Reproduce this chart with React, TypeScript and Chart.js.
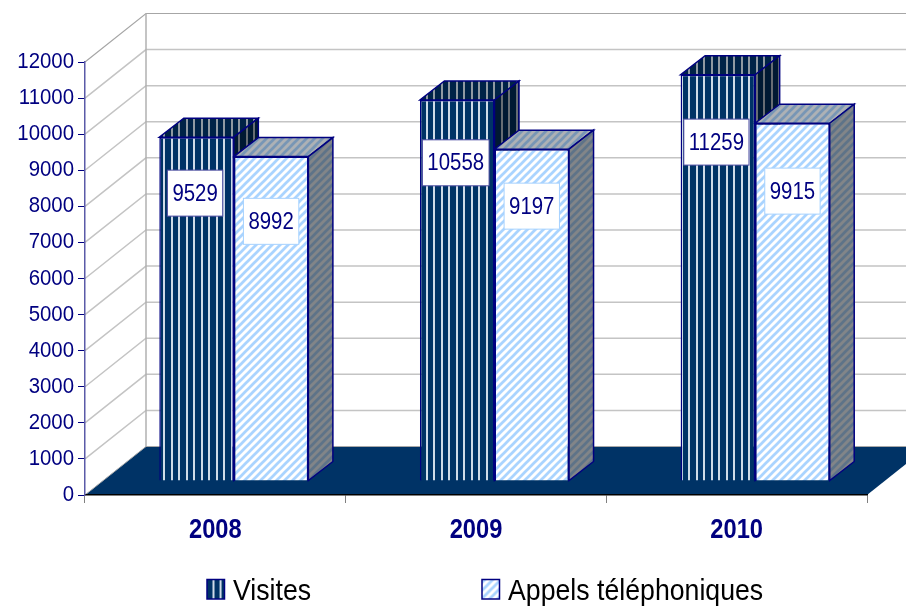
import React, { useEffect, useRef } from "react";
import { Chart, registerables } from "chart.js";

Chart.register(...registerables);

const years = ["2008", "2009", "2010"];
const visites = [9529, 10558, 11259];
const appels = [8992, 9197, 9915];
const seriesNames = ["Visites", "Appels téléphoniques"];
const NAVY = "#000080";
const FLOOR = "#003366";
const FONT = '"Liberation Sans", Arial, sans-serif';

// 3D projection offsets
const WALL = { dx: 61, dy: -48.5 };
const SHIFT = { dx: 18.5, dy: -14 };
const DEPTH = { dx: 24.5, dy: -19 };
// where each value box sits, as a share of its bar's height
const LABEL_RATIO = [
  [0.837, 0.835, 0.834],
  [0.8, 0.828, 0.81],
];

function stripePattern(ctx: CanvasRenderingContext2D) {
  const c = document.createElement("canvas");
  c.width = 15;
  c.height = 4;
  const g = c.getContext("2d")!;
  g.fillStyle = FLOOR;
  g.fillRect(0, 0, 15, 4);
  g.fillStyle = "#cfdbe8";
  g.fillRect(2, 0, 2, 4);
  g.fillRect(9, 0, 2, 4);
  const p = ctx.createPattern(c, "repeat")!;
  p.setTransform(new DOMMatrix().translate(0.5, 0));
  return p;
}

function diagonalPattern(ctx: CanvasRenderingContext2D) {
  const c = document.createElement("canvas");
  c.width = 8;
  c.height = 8;
  const g = c.getContext("2d")!;
  g.fillStyle = "#ffffff";
  g.fillRect(0, 0, 8, 8);
  g.strokeStyle = "#aad4ff";
  g.lineWidth = 2.7;
  for (const o of [-8, 0, 8]) {
    g.beginPath();
    g.moveTo(o - 2, 10);
    g.lineTo(o + 10, -2);
    g.stroke();
  }
  const p = ctx.createPattern(c, "repeat")!;
  p.setTransform(new DOMMatrix().translate(0.5, 0));
  return p;
}

function face(c: CanvasRenderingContext2D, pts: number[][], fill: any, shade: string) {
  c.beginPath();
  pts.forEach((p, i) => (i ? c.lineTo(p[0], p[1]) : c.moveTo(p[0], p[1])));
  c.closePath();
  c.fillStyle = fill;
  c.fill();
  c.fillStyle = shade;
  c.fill();
  c.strokeStyle = NAVY;
  c.lineWidth = 1.5;
  c.stroke();
}

function drawFaces(chart: any, index: number, patterns: any[]) {
  const c = chart.ctx as CanvasRenderingContext2D;
  const shades =
    index === 0
      ? ["rgba(0,0,0,0.3)", "rgba(0,0,0,0.5)"]
      : ["rgba(40,50,60,0.38)", "rgba(40,45,50,0.58)"];
  chart.getDatasetMeta(index).data.forEach((el: any) => {
    const l = el.x - el.width / 2;
    const r = el.x + el.width / 2;
    const t = el.y;
    const b = el.base;
    const { dx, dy } = DEPTH;
    face(c, [[l, t], [r, t], [r + dx, t + dy], [l + dx, t + dy]], patterns[index], shades[0]);
    face(c, [[r, t], [r + dx, t + dy], [r + dx, b + dy], [r, b]], patterns[index], shades[1]);
  });
}

// The reference's text is slightly taller than it is wide.
function stretchScaleLabels(scale: any, k: number) {
  if (scale.__stretched) return;
  scale.__stretched = true;
  const draw = scale.drawLabels.bind(scale);
  scale.drawLabels = (area: any) => {
    const c = scale.ctx;
    const fill = c.fillText;
    c.fillText = function (t: string, x: number, y: number) {
      c.save();
      c.translate(x, y);
      c.scale(1, k);
      fill.call(c, t, 0, 0);
      c.restore();
    };
    draw(area);
    delete c.fillText;
  };
}

function tallText(c: CanvasRenderingContext2D, t: string, x: number, y: number, k: number) {
  c.save();
  c.translate(x, y);
  c.scale(1, k);
  c.fillText(t, 0, 0);
  c.restore();
}

export default function App() {
  const ref = useRef<HTMLCanvasElement>(null);

  useEffect(() => {
    const canvas = ref.current!;
    const ctx = canvas.getContext("2d")!;
    const patterns = [stripePattern(ctx), diagonalPattern(ctx)];

    const scene = {
      id: "scene",
      beforeDraw(chart: any) {
        stretchScaleLabels(chart.scales.y, 1.07);
        stretchScaleLabels(chart.scales.x, 1.16);
        const c = chart.ctx as CanvasRenderingContext2D;
        const { left, right, bottom } = chart.chartArea;
        const y = chart.scales.y;
        const wx = left + WALL.dx;
        c.save();
        // gridlines on the side and back walls
        y.ticks.forEach((t: any) => {
          const py = y.getPixelForValue(t.value);
          if (t.value === 0) return;
          const isTop = t.value === y.max;
          c.strokeStyle = isTop ? "#a6a6a6" : "#c4c4c4";
          c.lineWidth = isTop ? 1.2 : 1.5;
          c.beginPath();
          c.moveTo(left, py);
          c.lineTo(wx, py + WALL.dy);
          c.lineTo(chart.width, py + WALL.dy);
          c.stroke();
        });
        c.strokeStyle = "#b0b0b0";
        c.lineWidth = 1.5;
        c.beginPath();
        c.moveTo(wx, y.getPixelForValue(y.max) + WALL.dy);
        c.lineTo(wx, bottom + WALL.dy);
        c.stroke();
        // floor
        c.beginPath();
        c.moveTo(left, bottom);
        c.lineTo(wx, bottom + WALL.dy);
        c.lineTo(right + WALL.dx, bottom + WALL.dy);
        c.lineTo(right, bottom);
        c.closePath();
        c.fillStyle = FLOOR;
        c.fill();
        c.strokeStyle = "#a8a8a8";
        c.lineWidth = 1;
        c.beginPath();
        c.moveTo(left, bottom);
        c.lineTo(wx, bottom + WALL.dy);
        c.lineTo(right + WALL.dx, bottom + WALL.dy);
        c.stroke();
        c.restore();
      },
      beforeDatasetsDraw(chart: any) {
        chart.ctx.save();
        chart.ctx.translate(SHIFT.dx, SHIFT.dy);
      },
      beforeDatasetDraw(chart: any, args: any) {
        if (args.index === 1) drawFaces(chart, 0, patterns);
      },
      afterDatasetDraw(chart: any, args: any) {
        if (args.index === 1) drawFaces(chart, 1, patterns);
      },
      afterDatasetsDraw(chart: any) {
        const c = chart.ctx as CanvasRenderingContext2D;
        c.restore();
        c.save();
        c.font = `20.4px ${FONT}`;
        c.textAlign = "center";
        c.textBaseline = "middle";
        [0, 1].forEach((ds) => {
          const meta = chart.getDatasetMeta(ds);
          const values = chart.data.datasets[ds].data;
          meta.data.forEach((el: any, i: number) => {
            const text = String(values[i]);
            const w = c.measureText(text).width + 10;
            const cx = el.x + SHIFT.dx - (ds === 0 ? 1.5 : 0);
            const cy = el.base + SHIFT.dy + (el.y - el.base) * LABEL_RATIO[ds][i];
            c.fillStyle = "#ffffff";
            c.fillRect(cx - w / 2, cy - 23, w, 46);
            c.strokeStyle = ds === 0 ? "#4a4aa0" : "#a6d2ff";
            c.lineWidth = 1;
            c.strokeRect(cx - w / 2, cy - 23, w, 46);
            c.fillStyle = NAVY;
            tallText(c, text, cx, cy + 1, 1.15);
          });
        });
        c.restore();

        // legend
        c.save();
        c.textAlign = "left";
        c.textBaseline = "alphabetic";
        c.font = `26.7px ${FONT}`;
        const entries = [
          { box: 207, text: 233 },
          { box: 482, text: 508 },
        ];
        entries.forEach((e, i) => {
          c.fillStyle = patterns[i];
          c.fillRect(e.box, 579.5, 17.5, 19.5);
          c.strokeStyle = NAVY;
          c.lineWidth = 1.5;
          c.strokeRect(e.box, 579.5, 17.5, 19.5);
          c.fillStyle = "#000000";
          tallText(c, chart.data.datasets[i].label, e.text, 600, 1.13);
        });
        c.restore();
      },
    };

    const chart = new Chart(canvas, {
      type: "bar",
      data: {
        labels: years,
        datasets: [
          {
            label: seriesNames[0],
            data: visites,
            backgroundColor: patterns[0],
            borderColor: NAVY,
            borderWidth: 1.5,
            categoryPercentage: 0.572,
            barPercentage: 1,
            clip: false,
          },
          {
            label: seriesNames[1],
            data: appels,
            backgroundColor: patterns[1],
            borderColor: NAVY,
            borderWidth: 1.5,
            categoryPercentage: 0.572,
            barPercentage: 1,
            clip: false,
          },
        ] as any,
      },
      options: {
        responsive: false,
        animation: false,
        layout: {
          autoPadding: false,
          padding: { top: 62, right: 39, left: 0, bottom: 0 },
        },
        plugins: { legend: { display: false }, title: { display: false }, tooltip: { enabled: false } },
        scales: {
          x: {
            afterFit(scale: any) {
              scale.height = 111;
            },
            grid: { drawOnChartArea: false, color: "#808080", tickLength: 8, offset: true },
            border: { color: "#000000", width: 1.5 },
            ticks: {
              color: NAVY,
              padding: 13,
              maxRotation: 0,
              font: { family: FONT, size: 23.7, weight: "bold" },
            },
          },
          y: {
            min: 0,
            max: 12000,
            afterFit(scale: any) {
              scale.width = 85;
            },
            grid: { drawOnChartArea: false, color: NAVY, tickLength: 7 },
            border: { color: "#5a5aa8", width: 1.5 },
            ticks: {
              stepSize: 1000,
              color: NAVY,
              padding: 4,
              autoSkip: false,
              callback: (v: any) => String(v),
              font: { family: FONT, size: 20.4 },
            },
          },
        },
      } as any,
      plugins: [scene],
    });
    return () => chart.destroy();
  }, []);

  return (
    <div style={{ position: "fixed", left: 0, top: 0, width: 906, height: 606, background: "#fff" }}>
      <canvas ref={ref} width={906} height={606} style={{ display: "block" }} />
    </div>
  );
}
